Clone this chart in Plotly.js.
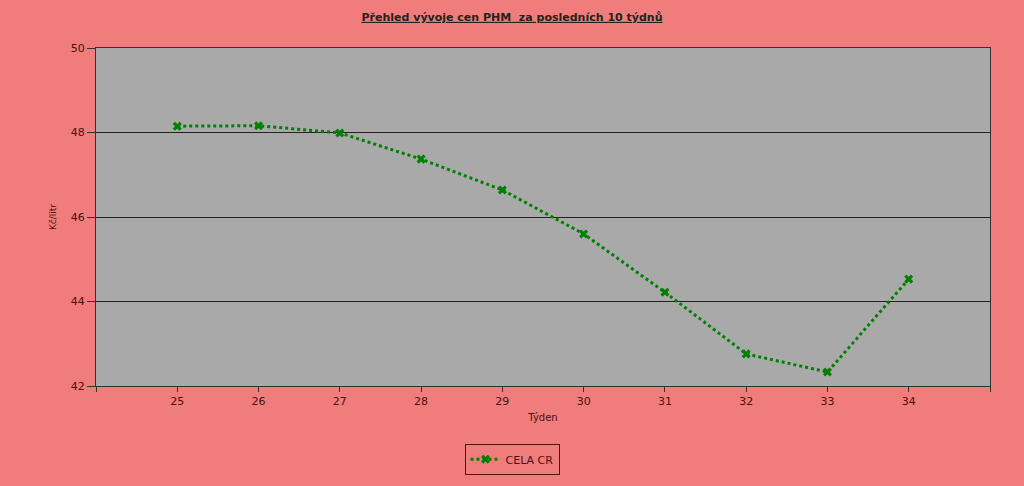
<!DOCTYPE html>
<html>
<head>
<meta charset="utf-8">
<script src="https://cdn.plot.ly/plotly-3.0.1.min.js"></script>
<style>html,body{margin:0;padding:0;background:#f07c7b;}#chart{width:1024px;height:486px;}</style>
</head>
<body>
<div id="chart"></div>
<script>
const weeks = [25, 26, 27, 28, 29, 30, 31, 32, 33, 34];
const prices = [48.15, 48.16, 47.99, 47.37, 46.64, 45.60, 44.22, 42.76, 42.33, 44.53];
const seriesName = 'CELA CR';
const tickValues = [24, 25, 26, 27, 28, 29, 30, 31, 32, 33, 34, 35];
const tickLabels = ['', '25', '26', '27', '28', '29', '30', '31', '32', '33', '34', ''];

const txt = '#4a1010';
const fnt = {family: 'Tahoma, "DejaVu Sans", sans-serif', size: 10, color: txt};

Plotly.newPlot('chart', [{
  x: weeks, y: prices, name: seriesName, type: 'scatter', mode: 'lines+markers',
  line: {color: '#008000', width: 3, dash: 'dot'},
  marker: {symbol: 'x', size: 8, color: '#008000'}
}], {
  width: 1024, height: 486,
  paper_bgcolor: '#f07c7b', plot_bgcolor: '#a9a9a9',
  margin: {l: 96, r: 34, t: 48, b: 100},
  font: fnt,
  title: {text: '<b><u>Přehled vývoje cen PHM  za posledních 10 týdnů</u></b>', x: 0.5, xanchor: 'center', y: 0.965, yanchor: 'middle', font: {family: 'Tahoma, "DejaVu Sans", sans-serif', size: 11, color: '#222'}},
  xaxis: {
    range: [24, 35], tickvals: tickValues, ticktext: tickLabels,
    showgrid: false, zeroline: false, showline: true, linecolor: '#333', linewidth: 1, mirror: true,
    ticks: 'outside', ticklen: 5, tickcolor: '#333', automargin: false,
    title: {text: 'Týden', font: {size: 10, color: txt}, standoff: 6},
    tickfont: {size: 11, color: txt}
  },
  yaxis: {
    range: [42, 50], dtick: 2, showgrid: true, gridcolor: '#222', gridwidth: 1,
    zeroline: false, showline: true, linecolor: '#333', linewidth: 1, mirror: true,
    ticks: 'outside', ticklen: 8, tickcolor: '#333', automargin: false,
    title: {text: 'Kč/litr', font: {size: 9, color: txt}, standoff: 12},
    tickfont: {size: 11, color: txt}
  },
  showlegend: true,
  legend: {xref: 'container', yref: 'container', x: 0.5, xanchor: 'center', y: 0.087, yanchor: 'top', orientation: 'h',
    bordercolor: '#5a1010', borderwidth: 1, bgcolor: 'rgba(0,0,0,0)', font: {size: 11, color: txt}}
}, {displayModeBar: false});
</script>
</body>
</html>
